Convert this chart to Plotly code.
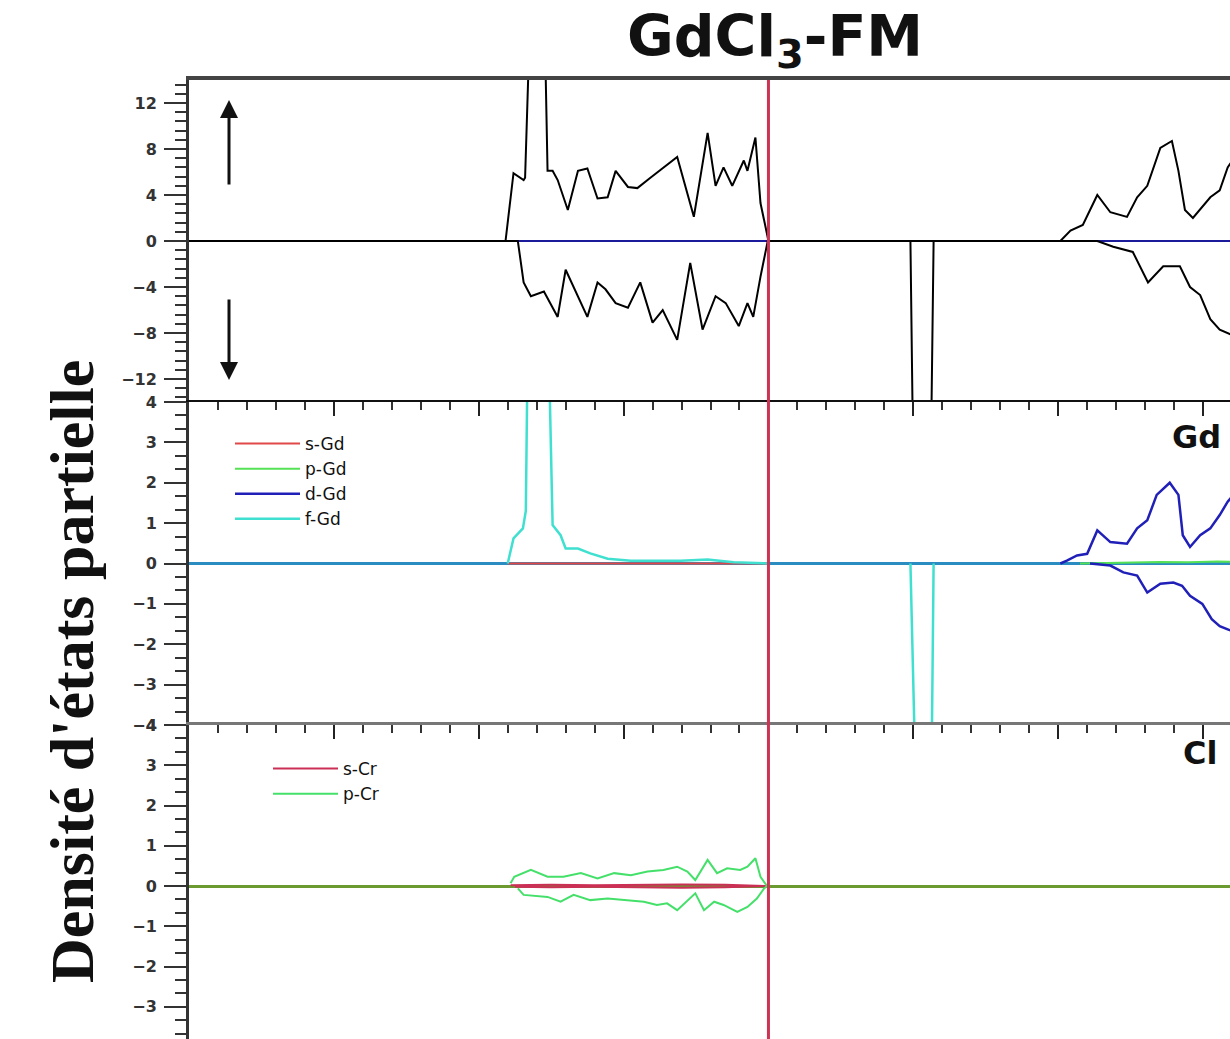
import plotly.graph_objects as go

# ---------------- data (energy in eV, DOS in states/eV) ----------------
# Total DOS (top panel)
tdos_up_x = [-8.0, -3.63, -3.52, -3.38, -3.36, -3.32, -3.27, -3.20, -3.13, -3.09, -3.05, -2.98, -2.91,
             -2.77, -2.63, -2.50, -2.36, -2.22, -2.11, -1.94, -1.81, -1.63, -1.45, -1.26, -1.03,
             -0.84, -0.73, -0.62, -0.50, -0.34, -0.29, -0.18, -0.11, 0.0, 4.03, 4.17, 4.34, 4.54,
             4.72, 4.95, 5.09, 5.23, 5.41, 5.57, 5.66, 5.75, 5.86, 6.10, 6.23, 6.34, 6.51]
tdos_up_y = [0, 0, 5.9, 5.3, 5.5, 20, 32, 38, 32, 20, 6.1, 6.1, 5.3,
             2.7, 6.1, 6.3, 3.7, 3.8, 6.1, 4.7, 4.6, 5.5, 6.4, 7.3, 2.1,
             9.4, 4.8, 6.4, 4.8, 7.0, 6.1, 9.0, 3.3, 0, 0, 0.9, 1.4, 4.0,
             2.5, 2.1, 3.8, 4.8, 8.1, 8.7, 6.1, 2.7, 2.0, 3.8, 4.4, 6.4, 8.0]
tdos_dn_x = [-8.0, -3.46, -3.38, -3.28, -3.10, -2.91, -2.80, -2.63, -2.50, -2.36, -2.25, -2.11, -1.94,
             -1.77, -1.60, -1.46, -1.26, -1.08, -0.91, -0.73, -0.59, -0.41, -0.29, -0.21, -0.11,
             -0.01, 1.96, 2.00, 2.04, 2.12, 2.20, 2.24, 2.28, 4.54, 4.76, 5.03, 5.24, 5.45, 5.68,
             5.82, 5.96, 6.10, 6.23, 6.34, 6.51]
tdos_dn_y = [0, 0, -3.6, -4.8, -4.4, -6.6, -2.5, -4.8, -6.6, -3.6, -4.2, -5.4, -5.8,
             -3.6, -7.1, -6.0, -8.6, -1.9, -7.7, -4.8, -5.4, -7.4, -5.4, -6.6, -3.1,
             0, 0, -20, -34, -38, -34, -20, 0, 0, -0.5, -0.95, -3.6, -2.2, -2.2,
             -4.0, -4.7, -6.8, -7.7, -8.0, -8.5]
tdos_ref_x = [-3.52, 0.0, None, 4.54, 6.51]
tdos_ref_y = [0, 0, None, 0, 0]

# Gd partial DOS (middle panel)
gd_s_x = [-3.6, 0.0]
gd_s_y = [0, 0]
gd_p_x = [4.3, 4.6, 5.0, 5.4, 5.8, 6.2, 6.51]
gd_p_y = [0, 0.01, 0.02, 0.04, 0.03, 0.05, 0.04]
gd_d_up_x = [4.03, 4.12, 4.26, 4.40, 4.54, 4.72, 4.95, 5.09, 5.23, 5.36, 5.54, 5.66, 5.72,
             5.82, 5.96, 6.10, 6.23, 6.34, 6.51]
gd_d_up_y = [0, 0.07, 0.2, 0.24, 0.82, 0.53, 0.49, 0.87, 1.07, 1.7, 2.0, 1.7, 0.7,
             0.41, 0.7, 0.87, 1.2, 1.53, 1.9]
gd_d_dn_x = [4.44, 4.72, 4.90, 5.09, 5.23, 5.41, 5.59, 5.71, 5.82, 5.99, 6.12, 6.23, 6.34, 6.51]
gd_d_dn_y = [0, -0.05, -0.22, -0.3, -0.72, -0.5, -0.47, -0.55, -0.8, -1.0, -1.38, -1.55, -1.63, -1.75]
gd_f_up_x = [-3.60, -3.52, -3.39, -3.35, -3.32, -3.26, -3.17, -3.09, -3.03, -2.98, -2.87,
             -2.80, -2.63, -2.46, -2.22, -1.90, -1.21, -0.84, -0.48, 0.0]
gd_f_up_y = [0, 0.62, 0.87, 1.3, 6, 10, 11, 10, 5, 0.95, 0.7,
             0.37, 0.37, 0.25, 0.12, 0.07, 0.07, 0.1, 0.03, 0]
gd_f_dn_x = [1.96, 1.98, 2.01, 2.12, 2.23, 2.26, 2.28]
gd_f_dn_y = [0, -3, -9, -12, -9, -3, 0]

# Cl partial DOS (bottom panel)
cl_s_up_x = [-3.56, -3.0, -2.4, -1.8, -1.2, -0.6, -0.02]
cl_s_up_y = [0.02, 0.03, 0.02, 0.03, 0.04, 0.03, 0]
cl_s_dn_x = [-3.50, -3.0, -2.4, -1.8, -1.2, -0.6, -0.02]
cl_s_dn_y = [-0.02, -0.03, -0.02, -0.03, -0.04, -0.03, 0]
cl_p_up_x = [-3.56, -3.51, -3.28, -3.05, -2.83, -2.59, -2.36, -2.13, -1.90, -1.67, -1.45, -1.26,
             -1.12, -1.01, -0.84, -0.71, -0.57, -0.39, -0.29, -0.18, -0.11, -0.02]
cl_p_up_y = [0.07, 0.23, 0.4, 0.23, 0.23, 0.32, 0.19, 0.32, 0.27, 0.36, 0.4, 0.48,
             0.36, 0.15, 0.65, 0.32, 0.44, 0.4, 0.48, 0.69, 0.23, 0]
cl_p_dn_x = [-3.46, -3.38, -3.05, -2.87, -2.69, -2.46, -2.22, -1.95, -1.72, -1.54, -1.40, -1.26,
             -1.12, -1.01, -0.89, -0.75, -0.62, -0.43, -0.29, -0.16, -0.06, -0.02]
cl_p_dn_y = [-0.06, -0.22, -0.27, -0.39, -0.22, -0.35, -0.31, -0.35, -0.39, -0.47, -0.43, -0.6,
             -0.35, -0.18, -0.6, -0.39, -0.47, -0.64, -0.52, -0.31, -0.06, 0]

x_range = [-8.0, 6.372]

# ---------------- figure ----------------
fig = go.Figure()

def line(x, y, color, width, xa, ya, name=None, legend=None, show=False, group=None):
    fig.add_trace(go.Scatter(x=x, y=y, mode="lines", line=dict(color=color, width=width),
                             xaxis=xa, yaxis=ya, name=name, showlegend=show,
                             legend=legend, legendgroup=group, hoverinfo="skip"))

# top: total DOS
line(tdos_ref_x, tdos_ref_y, "#1a1a9a", 2, "x", "y")
line(tdos_up_x, tdos_up_y, "black", 2, "x", "y")
line(tdos_dn_x, tdos_dn_y, "black", 2, "x", "y")

# middle: Gd
c_s, c_p, c_d, c_f = "#e04848", "#55e055", "#2020b8", "#3fe0d0"
line(gd_s_x, gd_s_y, c_s, 2, "x2", "y2", "s-Gd", "legend", True, "s")
line(gd_p_x, gd_p_y, c_p, 2, "x2", "y2", "p-Gd", "legend", True, "p")
line(gd_d_up_x, gd_d_up_y, c_d, 2.5, "x2", "y2", "d-Gd", "legend", True, "d")
line(gd_d_dn_x, gd_d_dn_y, c_d, 2.5, "x2", "y2", None, None, False, "d")
line(gd_f_up_x, gd_f_up_y, c_f, 2.5, "x2", "y2", "f-Gd", "legend", True, "f")
line(gd_f_dn_x, gd_f_dn_y, c_f, 2.5, "x2", "y2", None, None, False, "f")

# bottom: Cl
c_cs, c_cp = "#cc2f55", "#45e06a"
line(cl_s_up_x, cl_s_up_y, c_cs, 2, "x3", "y3", "s-Cr", "legend2", True, "cs")
line(cl_s_dn_x, cl_s_dn_y, c_cs, 2, "x3", "y3", None, None, False, "cs")
line(cl_p_up_x, cl_p_up_y, c_cp, 2, "x3", "y3", "p-Cr", "legend2", True, "cp")
line(cl_p_dn_x, cl_p_dn_y, c_cp, 2, "x3", "y3", None, None, False, "cp")

# layout geometry
H, T = 1039, 80
ph = H - T
d_top = [(H - 402) / ph, 1.0]
d_mid = [(H - 725) / ph, (H - 402) / ph]
d_bot = [0.0, (H - 725) / ph]

tickfont = dict(family="DejaVu Sans", size=16, color="#333", weight="bold")

def yax(dom, rng, dtick, mdtick, zcol, zw):
    return dict(domain=dom, range=rng, dtick=dtick, tick0=0, showline=True, linecolor="#333",
                linewidth=3, ticks="outside", ticklen=22, tickwidth=2, tickcolor="#333",
                minor=dict(dtick=mdtick, tick0=0, ticks="outside", ticklen=11, tickwidth=2,
                           tickcolor="#333"),
                showgrid=False, zeroline=True, zerolinecolor=zcol, zerolinewidth=zw,
                tickfont=tickfont, ticklabelstandoff=4, fixedrange=True, automargin=False)

def xax(anchor, linecolor, linewidth, ticks):
    d = dict(range=x_range, anchor=anchor, side="top", showline=True, linecolor=linecolor,
             linewidth=linewidth, showgrid=False, zeroline=False, showticklabels=False,
             domain=[0, 1], automargin=False)
    if ticks:
        d.update(ticks="inside", dtick=2, tick0=0, ticklen=14, tickwidth=2, tickcolor="#222",
                 minor=dict(dtick=0.4, tick0=0, ticks="inside", ticklen=8, tickwidth=2,
                            tickcolor="#333"))
    else:
        d.update(ticks="")
    return d

legfont = dict(family="DejaVu Sans", size=17, color="#111")

fig.update_layout(
    width=1230, height=1039,
    margin=dict(l=189, r=0, t=T, b=0, pad=0, autoexpand=False),
    paper_bgcolor="white", plot_bgcolor="white",
    xaxis=xax("y", "#444", 4, False),
    xaxis2=dict(xax("y2", "#111", 2, True), matches="x"),
    xaxis3=dict(xax("y3", "#777", 3, True), matches="x"),
    yaxis=yax(d_top, [-14, 14], 4, 0.8, "black", 2),
    yaxis2=yax(d_mid, [-4, 4], 1, 1 / 3, "#2a8cc0", 3),
    yaxis3=yax(d_bot, [-3.8, 4], 1, 1 / 3, "#6a9a30", 3),
    legend=dict(x=(230 - 189) / 1041, y=(1039 - 426) / ph, xanchor="left", yanchor="top",
                bgcolor="rgba(0,0,0,0)", font=legfont,
                itemwidth=65, tracegroupgap=0, traceorder="normal"),
    legend2=dict(x=(268 - 189) / 1041, y=(1039 - 751) / ph, xanchor="left", yanchor="top",
                 bgcolor="rgba(0,0,0,0)", font=legfont,
                 itemwidth=65, tracegroupgap=0, traceorder="normal"),
    showlegend=True,
)

# Fermi level line
fig.add_shape(type="line", xref="x", yref="paper", x0=0, x1=0, y0=0, y1=1,
              line=dict(color="#cc3355", width=3), layer="above")

# title and labels
fig.add_annotation(text="<b>GdCl<sub>3</sub>-FM</b>", xref="paper", yref="paper",
                   x=(775 - 189) / 1041, y=(H - 40) / ph, showarrow=False,
                   font=dict(family="DejaVu Sans", size=57, color="#111"),
                   xanchor="center", yanchor="middle")
fig.add_annotation(text="<b>Densité d'états partielle</b>", xref="paper", yref="paper",
                   x=(72 - 189) / 1041, y=(H - 672) / ph, showarrow=False, textangle=-90,
                   font=dict(family="Liberation Serif", size=62, color="#111"),
                   xanchor="center", yanchor="middle")
fig.add_annotation(text="<b>Gd</b>", xref="paper", yref="paper",
                   x=(1223 - 189) / 1041, y=(H - 437) / ph, showarrow=False,
                   font=dict(family="DejaVu Sans", size=32, color="#111"),
                   xanchor="right", yanchor="middle")
fig.add_annotation(text="<b>Cl</b>", xref="paper", yref="paper",
                   x=(1219 - 189) / 1041, y=(H - 753) / ph, showarrow=False,
                   font=dict(family="DejaVu Sans", size=32, color="#111"),
                   xanchor="right", yanchor="middle")

# spin arrows
fig.add_annotation(text="", xref="paper", yref="paper", x=(229 - 189) / 1041, y=(H - 100) / ph,
                   ax=0, ay=86, showarrow=True, arrowhead=2, arrowsize=1.2, arrowwidth=3,
                   arrowcolor="#111")
fig.add_annotation(text="", xref="paper", yref="paper", x=(229 - 189) / 1041, y=(H - 380) / ph,
                   ax=0, ay=-82, showarrow=True, arrowhead=2, arrowsize=1.2, arrowwidth=3,
                   arrowcolor="#111")

fig.write_html("out.html")
